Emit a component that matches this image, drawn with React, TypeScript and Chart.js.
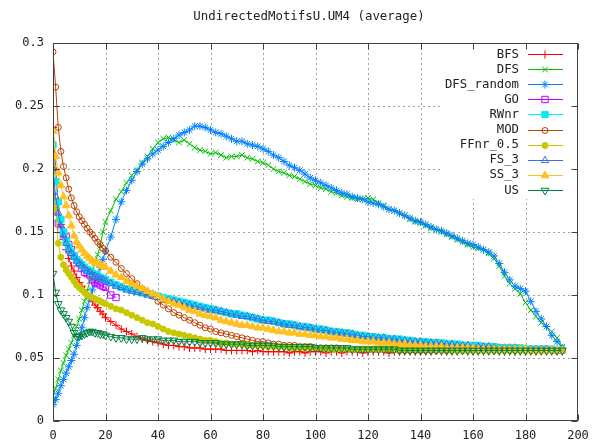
import React, { useEffect, useRef } from 'react';
import { Chart, registerables } from 'chart.js';
import { drawPoint } from 'chart.js/helpers';
Chart.register(...registerables);

const chartTitle = 'UndirectedMotifsU.UM4 (average)';

const xValues = [
  0, 1, 2, 3, 4, 5, 6, 7, 8, 9, 10, 11, 12, 13, 14, 15, 16, 17, 18, 19, 20,
  22, 24, 26, 28, 30, 32, 34, 36, 38, 40, 42, 44, 46, 48, 50, 52, 54, 56, 58, 60,
  62, 64, 66, 68, 70, 72, 74, 76, 78, 80, 82, 84, 86, 88, 90, 92, 94, 96, 98, 100,
  102, 104, 106, 108, 110, 112, 114, 116, 118, 120, 122, 124, 126, 128, 130, 132, 134, 136, 138, 140,
  142, 144, 146, 148, 150, 152, 154, 156, 158, 160, 162, 164, 166, 168, 170, 172, 174, 176, 178, 180,
  182, 184, 186, 188, 190, 192, 194,
];

const xTickValues = [0, 20, 40, 60, 80, 100, 120, 140, 160, 180, 200];
const yTickValues = [0, 0.05, 0.1, 0.15, 0.2, 0.25, 0.3];
const yTickLabels = ['0', '0.05', '0.1', '0.15', '0.2', '0.25', '0.3'];

const bfsValues = [
  0.233, 0.200, 0.172, 0.156, 0.144, 0.136, 0.129, 0.123, 0.119, 0.114, 0.110, 0.107, 0.104, 0.101, 0.098, 0.095, 0.092, 0.090, 0.087, 0.085, 0.082,
  0.079, 0.076, 0.073, 0.071, 0.069, 0.067, 0.065, 0.064, 0.063, 0.062, 0.061, 0.060, 0.060, 0.059, 0.059, 0.058, 0.058, 0.058, 0.057, 0.057,
  0.057, 0.057, 0.056, 0.056, 0.056, 0.056, 0.056, 0.055, 0.056, 0.055, 0.055, 0.055, 0.055, 0.055, 0.054, 0.055, 0.055, 0.054, 0.055, 0.055,
  0.055, 0.054, 0.055, 0.055, 0.054, 0.055, 0.055, 0.055, 0.054, 0.055, 0.055, 0.055, 0.055, 0.054, 0.055, 0.055, 0.055, 0.055, 0.055, 0.055,
  0.055, 0.055, 0.056, 0.055, 0.055, 0.055, 0.055, 0.056, 0.055, 0.055, 0.055, 0.055, 0.055, 0.056, 0.055, 0.055, 0.055, 0.055, 0.055, 0.055,
  0.055, 0.055, 0.055, 0.055, 0.055, 0.055, 0.055,
];

const dfsValues = [
  0.020, 0.026, 0.033, 0.040, 0.046, 0.052, 0.057, 0.062, 0.068, 0.075, 0.081, 0.088, 0.095, 0.103, 0.111, 0.118, 0.125, 0.132, 0.139, 0.150, 0.158,
  0.167, 0.176, 0.182, 0.189, 0.195, 0.199, 0.205, 0.210, 0.216, 0.221, 0.224, 0.225, 0.223, 0.221, 0.223, 0.220, 0.217, 0.215, 0.214, 0.212,
  0.213, 0.211, 0.209, 0.210, 0.210, 0.211, 0.209, 0.208, 0.206, 0.205, 0.203, 0.200, 0.198, 0.197, 0.195, 0.194, 0.192, 0.190, 0.188, 0.187,
  0.185, 0.184, 0.182, 0.181, 0.179, 0.178, 0.177, 0.176, 0.176, 0.177, 0.176, 0.173, 0.171, 0.168, 0.167, 0.165, 0.163, 0.160, 0.158, 0.157,
  0.155, 0.153, 0.152, 0.150, 0.148, 0.146, 0.144, 0.142, 0.140, 0.138, 0.137, 0.136, 0.133, 0.129, 0.123, 0.115, 0.109, 0.105, 0.101, 0.094,
  0.088, 0.083, 0.078, 0.075, 0.071, 0.066, 0.059,
];

const dfsRandomValues = [
  0.013, 0.017, 0.022, 0.028, 0.033, 0.038, 0.043, 0.048, 0.053, 0.060, 0.067, 0.074, 0.082, 0.090, 0.097, 0.104, 0.110, 0.116, 0.122, 0.128, 0.135,
  0.146, 0.160, 0.174, 0.183, 0.191, 0.198, 0.204, 0.208, 0.212, 0.215, 0.218, 0.221, 0.224, 0.227, 0.229, 0.231, 0.234, 0.234, 0.233, 0.231,
  0.229, 0.228, 0.226, 0.224, 0.222, 0.222, 0.220, 0.219, 0.218, 0.216, 0.214, 0.211, 0.209, 0.206, 0.203, 0.201, 0.199, 0.196, 0.193, 0.191,
  0.189, 0.187, 0.185, 0.183, 0.181, 0.180, 0.178, 0.177, 0.176, 0.174, 0.173, 0.172, 0.170, 0.168, 0.167, 0.165, 0.163, 0.161, 0.159, 0.158,
  0.156, 0.154, 0.152, 0.151, 0.149, 0.147, 0.145, 0.143, 0.141, 0.140, 0.138, 0.136, 0.134, 0.131, 0.125, 0.118, 0.112, 0.107, 0.105, 0.103,
  0.095, 0.087, 0.081, 0.075, 0.068, 0.063, 0.058,
];

const goValues = [
  0.199, 0.167, 0.157, 0.152, 0.149, 0.146, 0.140, 0.136, 0.131, 0.128, 0.125, 0.121, 0.118, 0.117, 0.116, 0.112, 0.110, 0.109, 0.108, 0.107, 0.106,
  0.100, 0.098,
];

const rwnrValues = [
  0.219, 0.190, 0.174, 0.160, 0.150, 0.143, 0.138, 0.134, 0.131, 0.128, 0.126, 0.124, 0.122, 0.120, 0.119, 0.117, 0.116, 0.115, 0.114, 0.113, 0.112,
  0.110, 0.108, 0.106, 0.105, 0.104, 0.103, 0.102, 0.101, 0.100, 0.099, 0.098, 0.097, 0.096, 0.095, 0.094, 0.093, 0.092, 0.091, 0.090, 0.089,
  0.088, 0.087, 0.086, 0.085, 0.085, 0.084, 0.083, 0.082, 0.081, 0.080, 0.080, 0.079, 0.078, 0.077, 0.077, 0.076, 0.075, 0.075, 0.074, 0.073,
  0.073, 0.072, 0.071, 0.071, 0.070, 0.070, 0.069, 0.068, 0.068, 0.067, 0.067, 0.066, 0.066, 0.065, 0.065, 0.065, 0.064, 0.064, 0.063, 0.063,
  0.063, 0.062, 0.062, 0.062, 0.061, 0.061, 0.061, 0.060, 0.060, 0.060, 0.060, 0.059, 0.059, 0.059, 0.058, 0.058, 0.058, 0.058, 0.058, 0.057,
  0.057, 0.057, 0.057, 0.057, 0.057, 0.056, 0.056,
];

const modValues = [
  0.293, 0.265, 0.233, 0.214, 0.202, 0.193, 0.184, 0.177, 0.171, 0.166, 0.162, 0.159, 0.156, 0.153, 0.150, 0.148, 0.145, 0.142, 0.140, 0.137, 0.135,
  0.130, 0.126, 0.121, 0.117, 0.113, 0.109, 0.105, 0.102, 0.099, 0.095, 0.092, 0.089, 0.086, 0.084, 0.082, 0.080, 0.078, 0.076, 0.074, 0.073,
  0.071, 0.070, 0.069, 0.068, 0.067, 0.066, 0.065, 0.064, 0.063, 0.063, 0.062, 0.061, 0.061, 0.060, 0.060, 0.060, 0.059, 0.059, 0.059, 0.058,
  0.058, 0.058, 0.058, 0.058, 0.057, 0.057, 0.057, 0.057, 0.057, 0.057, 0.057, 0.057, 0.057, 0.056, 0.057, 0.056, 0.056, 0.056, 0.056, 0.056,
  0.056, 0.056, 0.056, 0.056, 0.056, 0.056, 0.056, 0.056, 0.056, 0.056, 0.056, 0.056, 0.056, 0.056, 0.056, 0.056, 0.056, 0.056, 0.056, 0.056,
  0.056, 0.056, 0.056, 0.056, 0.056, 0.056, 0.056,
];

const ffnrValues = [
  0.201, 0.168, 0.141, 0.130, 0.124, 0.120, 0.117, 0.114, 0.111, 0.108, 0.106, 0.104, 0.102, 0.100, 0.099, 0.098, 0.097, 0.096, 0.095, 0.094, 0.093,
  0.091, 0.089, 0.088, 0.086, 0.084, 0.082, 0.080, 0.078, 0.077, 0.075, 0.073, 0.071, 0.070, 0.069, 0.068, 0.067, 0.066, 0.065, 0.064, 0.064,
  0.063, 0.062, 0.062, 0.061, 0.061, 0.061, 0.060, 0.060, 0.060, 0.060, 0.059, 0.059, 0.059, 0.059, 0.058, 0.058, 0.058, 0.058, 0.058, 0.058,
  0.058, 0.057, 0.057, 0.057, 0.057, 0.057, 0.057, 0.057, 0.057, 0.057, 0.057, 0.057, 0.057, 0.057, 0.057, 0.057, 0.057, 0.057, 0.057, 0.057,
  0.057, 0.057, 0.057, 0.056, 0.057, 0.056, 0.056, 0.056, 0.056, 0.056, 0.056, 0.056, 0.056, 0.056, 0.056, 0.056, 0.056, 0.056, 0.056, 0.056,
  0.056, 0.056, 0.056, 0.056, 0.056, 0.056, 0.056,
];

const fs3Values = [
  0.200, 0.178, 0.165, 0.155, 0.147, 0.141, 0.136, 0.133, 0.130, 0.127, 0.125, 0.123, 0.121, 0.119, 0.118, 0.116, 0.115, 0.114, 0.113, 0.112, 0.111,
  0.109, 0.107, 0.106, 0.104, 0.103, 0.102, 0.101, 0.100, 0.099, 0.098, 0.097, 0.096, 0.095, 0.094, 0.093, 0.092, 0.091, 0.090, 0.089, 0.088,
  0.088, 0.087, 0.086, 0.085, 0.084, 0.083, 0.083, 0.082, 0.081, 0.080, 0.079, 0.079, 0.078, 0.077, 0.076, 0.076, 0.075, 0.074, 0.074, 0.073,
  0.072, 0.072, 0.071, 0.070, 0.070, 0.069, 0.069, 0.068, 0.067, 0.067, 0.066, 0.066, 0.066, 0.065, 0.065, 0.064, 0.064, 0.063, 0.063, 0.063,
  0.062, 0.062, 0.062, 0.061, 0.061, 0.061, 0.060, 0.060, 0.060, 0.059, 0.059, 0.059, 0.059, 0.058, 0.058, 0.058, 0.058, 0.058, 0.057, 0.057,
  0.057, 0.057, 0.057, 0.057, 0.056, 0.056, 0.056,
];

const ss3Values = [
  0.230, 0.210, 0.197, 0.187, 0.178, 0.171, 0.163, 0.155, 0.147, 0.142, 0.139, 0.136, 0.133, 0.131, 0.129, 0.127, 0.126, 0.125, 0.124, 0.123, 0.122,
  0.119, 0.116, 0.114, 0.111, 0.109, 0.107, 0.105, 0.103, 0.101, 0.099, 0.097, 0.095, 0.093, 0.092, 0.090, 0.088, 0.087, 0.085, 0.084, 0.083,
  0.082, 0.080, 0.079, 0.078, 0.077, 0.076, 0.076, 0.075, 0.074, 0.074, 0.073, 0.072, 0.071, 0.071, 0.070, 0.070, 0.069, 0.069, 0.068, 0.068,
  0.067, 0.067, 0.066, 0.066, 0.065, 0.065, 0.064, 0.064, 0.063, 0.063, 0.063, 0.062, 0.062, 0.062, 0.061, 0.061, 0.061, 0.060, 0.060, 0.060,
  0.059, 0.059, 0.059, 0.059, 0.058, 0.058, 0.058, 0.058, 0.058, 0.058, 0.057, 0.057, 0.057, 0.057, 0.057, 0.057, 0.057, 0.057, 0.057, 0.057,
  0.056, 0.056, 0.056, 0.056, 0.056, 0.056, 0.056,
];

const usValues = [
  0.117, 0.102, 0.093, 0.088, 0.085, 0.082, 0.079, 0.075, 0.070, 0.067, 0.067, 0.068, 0.069, 0.070, 0.071, 0.071, 0.070, 0.070, 0.069, 0.069, 0.068,
  0.067, 0.066, 0.066, 0.065, 0.065, 0.065, 0.066, 0.065, 0.065, 0.065, 0.064, 0.064, 0.064, 0.063, 0.063, 0.063, 0.063, 0.062, 0.062, 0.062,
  0.062, 0.061, 0.061, 0.061, 0.061, 0.061, 0.060, 0.060, 0.060, 0.060, 0.060, 0.060, 0.059, 0.059, 0.059, 0.059, 0.059, 0.059, 0.059, 0.058,
  0.058, 0.058, 0.058, 0.058, 0.058, 0.058, 0.057, 0.057, 0.057, 0.057, 0.057, 0.057, 0.057, 0.057, 0.057, 0.056, 0.056, 0.056, 0.056, 0.056,
  0.056, 0.056, 0.056, 0.056, 0.056, 0.056, 0.056, 0.056, 0.056, 0.056, 0.056, 0.056, 0.056, 0.056, 0.056, 0.056, 0.056, 0.056, 0.056, 0.056,
  0.056, 0.056, 0.056, 0.056, 0.056, 0.056, 0.056,
];

const seriesNames = ['BFS', 'DFS', 'DFS_random', 'GO', 'RWnr', 'MOD', 'FFnr_0.5', 'FS_3', 'SS_3', 'US'];
const seriesValues = [bfsValues, dfsValues, dfsRandomValues, goValues, rwnrValues, modValues, ffnrValues, fs3Values, ss3Values, usValues];
const seriesColors = ['#ff0000', '#00c000', '#0080ff', '#c000ff', '#00eeee', '#c04000', '#c8c800', '#4169e1', '#ffc020', '#008040'];
const seriesMarkers = ['cross', 'crossRot', 'star', 'rect', 'rect', 'circle', 'circle', 'triangle', 'triangle', 'triangle'];
const seriesFilled = [false, false, false, false, true, false, true, false, true, false];
const seriesRadius = [4, 4, 4, 4.5, 4.5, 3, 3, 4.2, 4.5, 4.5];
const seriesRotation = [0, 0, 0, 0, 0, 0, 0, 0, 0, 180];

const FONT = '"DejaVu Sans Mono", monospace';

const gnuplotPlugin = {
  id: 'gnuplotDecor',
  beforeDatasetsDraw(chart: any) {
    const { ctx, chartArea: a, scales } = chart;
    ctx.save();
    ctx.strokeStyle = '#a0a0a0';
    ctx.lineWidth = 1;
    ctx.setLineDash([2, 3]);
    xTickValues.slice(1, -1).forEach((v) => {
      const px = Math.round(scales.x.getPixelForValue(v)) + 0.5;
      ctx.beginPath();
      ctx.moveTo(px, a.top);
      ctx.lineTo(px, a.bottom);
      ctx.stroke();
    });
    yTickValues.slice(1, -1).forEach((v) => {
      const py = Math.round(scales.y.getPixelForValue(v)) + 0.5;
      ctx.beginPath();
      ctx.moveTo(a.left, py);
      ctx.lineTo(a.right, py);
      ctx.stroke();
    });
    ctx.restore();
  },
  afterDraw(chart: any) {
    const { ctx, chartArea: a, scales } = chart;
    ctx.save();
    // key background
    ctx.fillStyle = '#ffffff';
    ctx.fillRect(440, 46, 136, 153);
    // key entries
    ctx.font = `12.3px ${FONT}`;
    ctx.textAlign = 'right';
    ctx.textBaseline = 'middle';
    seriesNames.forEach((name, i) => {
      const y = 54 + i * 15.1;
      ctx.fillStyle = '#222';
      ctx.fillText(name, 519, y + 0.5);
      ctx.strokeStyle = seriesColors[i];
      ctx.lineWidth = 1;
      ctx.setLineDash([]);
      ctx.beginPath();
      ctx.moveTo(528, Math.round(y) + 0.5);
      ctx.lineTo(563, Math.round(y) + 0.5);
      ctx.stroke();
      ctx.fillStyle = seriesFilled[i] ? seriesColors[i] : 'rgba(0,0,0,0)';
      drawPoint(ctx, {
        pointStyle: seriesMarkers[i],
        rotation: seriesRotation[i],
        radius: seriesRadius[i],
        borderWidth: 1,
      } as any, 545, Math.round(y) + 0.5);
    });
    // border
    const l = Math.round(a.left) + 0.5;
    const r = Math.round(a.right) - 0.5;
    const t = Math.round(a.top) + 0.5;
    const b = Math.round(a.bottom) - 0.5;
    ctx.strokeStyle = '#404040';
    ctx.lineWidth = 1;
    ctx.setLineDash([]);
    ctx.strokeRect(l, t, r - l, b - t);
    ctx.beginPath();
    xTickValues.forEach((v) => {
      const px = Math.round(scales.x.getPixelForValue(v)) + 0.5;
      ctx.moveTo(px, b);
      ctx.lineTo(px, b - 6);
      ctx.moveTo(px, t);
      ctx.lineTo(px, t + 6);
    });
    yTickValues.forEach((v) => {
      const py = Math.round(scales.y.getPixelForValue(v)) + 0.5;
      ctx.moveTo(l, py);
      ctx.lineTo(l + 6, py);
      ctx.moveTo(r, py);
      ctx.lineTo(r - 6, py);
    });
    ctx.stroke();
    // title
    ctx.fillStyle = '#222';
    ctx.font = `12.4px ${FONT}`;
    ctx.textAlign = 'center';
    ctx.textBaseline = 'middle';
    ctx.fillText(chartTitle, 309, 17);
    ctx.restore();
  },
};

export default function App() {
  const canvasRef = useRef<HTMLCanvasElement | null>(null);

  useEffect(() => {
    if (!canvasRef.current) return;
    const datasets = seriesNames.map((name, i) => ({
      label: name,
      data: seriesValues[i].map((v, j) => ({ x: xValues[j], y: v })),
      borderColor: seriesColors[i],
      backgroundColor: seriesColors[i],
      borderWidth: 1,
      pointStyle: seriesMarkers[i],
      pointRadius: seriesRadius[i],
      pointBorderWidth: 1,
      pointBorderColor: seriesColors[i],
      pointBackgroundColor: seriesFilled[i] ? seriesColors[i] : 'rgba(0,0,0,0)',
      pointRotation: seriesRotation[i],
      fill: false,
      tension: 0,
      order: seriesNames.length - 1 - i,
    }));

    const chart = new Chart(canvasRef.current, {
      type: 'line',
      data: { datasets },
      options: {
        animation: false,
        responsive: false,
        events: [],
        layout: { padding: { top: 43, right: 36, left: 0, bottom: 0 } },
        plugins: {
          legend: { display: false },
          title: { display: false },
          tooltip: { enabled: false },
        },
        scales: {
          x: {
            type: 'linear',
            min: 0,
            max: 200,
            afterFit: (s: any) => { s.height = 20; },
            afterBuildTicks: (s: any) => { s.ticks = xTickValues.map((v) => ({ value: v })); },
            ticks: {
              padding: 8,
              color: '#222',
              font: { family: FONT, size: 12 },
              maxRotation: 0,
              autoSkip: false,
              callback: (v: any) => String(v),
            },
            grid: { display: false, drawTicks: false },
            border: { display: false },
          },
          y: {
            type: 'linear',
            min: 0,
            max: 0.3,
            afterFit: (s: any) => { s.width = 53; },
            afterBuildTicks: (s: any) => { s.ticks = yTickValues.map((v) => ({ value: v })); },
            ticks: {
              padding: 9,
              color: '#222',
              font: { family: FONT, size: 12 },
              autoSkip: false,
              callback: (v: any) => {
                const idx = yTickValues.findIndex((t) => Math.abs(t - v) < 1e-9);
                return idx >= 0 ? yTickLabels[idx] : '';
              },
            },
            grid: { display: false, drawTicks: false },
            border: { display: false },
          },
        },
      } as any,
      plugins: [gnuplotPlugin],
    });
    return () => chart.destroy();
  }, []);

  return (
    <div style={{ position: 'fixed', left: 0, top: 0, width: 614, height: 441, background: '#fff' }}>
      <canvas ref={canvasRef} width={614} height={441} style={{ width: 614, height: 441 }} />
    </div>
  );
}
